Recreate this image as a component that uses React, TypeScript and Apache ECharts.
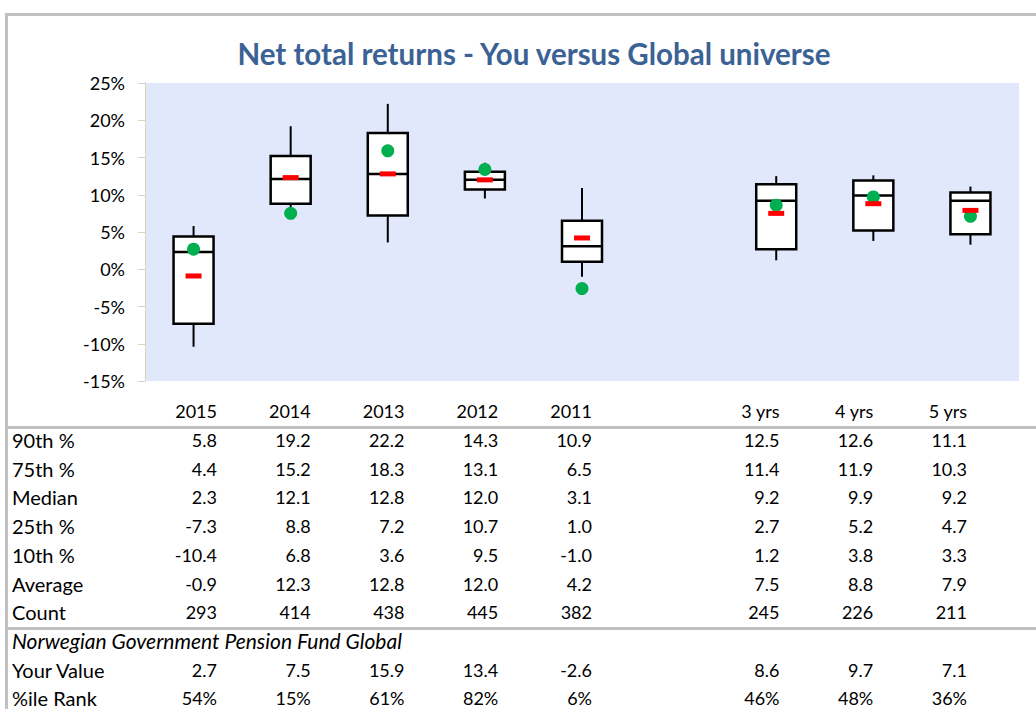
import React, { useEffect, useRef } from "react";
import * as echarts from "echarts";

const axisCategories = ["2015", "2014", "2013", "2012", "2011", "", "3 yrs", "4 yrs", "5 yrs"];
const periods = ["2015", "2014", "2013", "2012", "2011", "3 yrs", "4 yrs", "5 yrs"];
const p90 = [5.8, 19.2, 22.2, 14.3, 10.9, 12.5, 12.6, 11.1];
const p75 = [4.4, 15.2, 18.3, 13.1, 6.5, 11.4, 11.9, 10.3];
const median = [2.3, 12.1, 12.8, 12.0, 3.1, 9.2, 9.9, 9.2];
const p25 = [-7.3, 8.8, 7.2, 10.7, 1.0, 2.7, 5.2, 4.7];
const p10 = [-10.4, 6.8, 3.6, 9.5, -1.0, 1.2, 3.8, 3.3];
const average = [-0.9, 12.3, 12.8, 12.0, 4.2, 7.5, 8.8, 7.9];
const count = [293, 414, 438, 445, 382, 245, 226, 211];
const yourValue = [2.7, 7.5, 15.9, 13.4, -2.6, 8.6, 9.7, 7.1];
const pctRank = [54, 15, 61, 82, 6, 46, 48, 36];
const yTicks = { min: -15, max: 25, interval: 5 };

const FONT = "Lato, 'Open Sans', sans-serif";

export default function App() {
  const ref = useRef<HTMLDivElement>(null);
  useEffect(() => {
    if (!ref.current) return;
    const chart = echarts.init(ref.current, undefined, { renderer: "svg" });
    const idx = periods.map((p) => axisCategories.indexOf(p));

    const boxData = periods.map((_, i) => [idx[i], p10[i], p25[i], median[i], p75[i], p90[i]]);
    const avgData = periods.map((_, i) => [idx[i], average[i]]);
    const youData = periods.map((_, i) => [idx[i], yourValue[i]]);

    // table layout
    const colRight = (k: number) => 217 + k * 93.75;
    const headerY = 411;
    const rowY0 = 440;
    const rowPitch = 28.7;
    const textStyle = (text: string, x: number, y: number, align: string, size = 18, italic = false) => ({
      type: "text",
      silent: true,
      style: {
        text,
        x,
        y,
        fill: "#000",
        font: `${italic ? "italic " : ""}${size}px ${FONT}`,
        textAlign: align,
        textVerticalAlign: "middle",
      },
    });
    const LABEL_SIZE = 20;
    const graphics: any[] = [];
    // borders
    graphics.push({ type: "rect", silent: true, shape: { x: 5, y: 13, width: 1031, height: 3 }, style: { fill: "#c0c0c0" } });
    graphics.push({ type: "rect", silent: true, shape: { x: 5, y: 13, width: 3, height: 696 }, style: { fill: "#c0c0c0" } });
    graphics.push({ type: "rect", silent: true, shape: { x: 5, y: 426, width: 1031, height: 3 }, style: { fill: "#c0c0c0" } });
    graphics.push({ type: "rect", silent: true, shape: { x: 5, y: 627, width: 1031, height: 3 }, style: { fill: "#c0c0c0" } });

    periods.forEach((p, i) => {
      graphics.push(textStyle(p, colRight(idx[i]), headerY, "right"));
    });
    const rows: [string, (i: number) => string][] = [
      ["90th %", (i) => p90[i].toFixed(1)],
      ["75th %", (i) => p75[i].toFixed(1)],
      ["Median", (i) => median[i].toFixed(1)],
      ["25th %", (i) => p25[i].toFixed(1)],
      ["10th %", (i) => p10[i].toFixed(1)],
      ["Average", (i) => average[i].toFixed(1)],
      ["Count", (i) => String(count[i])],
    ];
    rows.forEach(([label, fn], r) => {
      const y = rowY0 + r * rowPitch;
      graphics.push(textStyle(label, 12, y, "left", LABEL_SIZE));
      periods.forEach((_, i) => graphics.push(textStyle(fn(i), colRight(idx[i]), y, "right")));
    });
    const r7 = rowY0 + 7 * rowPitch;
    graphics.push(textStyle("Norwegian Government Pension Fund Global", 12, r7, "left", 21, true));
    const r8 = rowY0 + 8 * rowPitch;
    graphics.push(textStyle("Your Value", 12, r8, "left", LABEL_SIZE));
    periods.forEach((_, i) => graphics.push(textStyle(yourValue[i].toFixed(1), colRight(idx[i]), r8, "right")));
    const r9 = rowY0 + 9 * rowPitch;
    graphics.push(textStyle("%ile Rank", 12, r9, "left", LABEL_SIZE));
    periods.forEach((_, i) => graphics.push(textStyle(`${pctRank[i]}%`, colRight(idx[i]), r9, "right")));

    chart.setOption({
      animation: false,
      backgroundColor: "#ffffff",
      title: {
        text: "Net total returns - You versus Global universe",
        left: 529,
        top: 33,
        textAlign: "center",
        textStyle: { fontFamily: FONT, fontWeight: "bold", fontSize: 29.5, color: "#3b6295" },
      },
      grid: {
        left: 145,
        right: 17,
        top: 83,
        bottom: 328,
        show: true,
        backgroundColor: "#e1e8fb",
        borderWidth: 0,
      },
      xAxis: {
        type: "category",
        data: axisCategories,
        axisLine: { show: false },
        axisTick: { show: false },
        axisLabel: { show: false },
        splitLine: { show: false },
      },
      yAxis: {
        type: "value",
        min: yTicks.min,
        max: yTicks.max,
        interval: yTicks.interval,
        axisLine: { show: true, lineStyle: { color: "#d9d3b8", width: 1 } },
        axisTick: { show: true, length: 7, lineStyle: { color: "#d9d3b8" } },
        axisLabel: {
          formatter: (v: number) => `${v}%`,
          fontFamily: FONT,
          fontSize: 18,
          color: "#000",
          margin: 20,
        },
        splitLine: { show: false },
      },
      graphic: graphics,
      series: [
        {
          type: "custom",
          z: 2,
          data: boxData,
          encode: { x: 0, y: [1, 2, 3, 4, 5] },
          renderItem: (params: any, api: any) => {
            const x = api.value(0);
            const pt = (v: number) => api.coord([x, v]);
            const c = pt(api.value(1))[0];
            const y10 = pt(api.value(1))[1];
            const y25 = pt(api.value(2))[1];
            const ymed = pt(api.value(3))[1];
            const y75 = pt(api.value(4))[1];
            const y90 = pt(api.value(5))[1];
            const hw = 20;
            return {
              type: "group",
              children: [
                { type: "line", shape: { x1: c, y1: y10, x2: c, y2: y25 }, style: { stroke: "#000", lineWidth: 2 } },
                { type: "line", shape: { x1: c, y1: y75, x2: c, y2: y90 }, style: { stroke: "#000", lineWidth: 2 } },
                {
                  type: "rect",
                  shape: { x: c - hw, y: y75, width: hw * 2, height: y25 - y75 },
                  style: { fill: "#ffffff", stroke: "#000", lineWidth: 2.5 },
                },
                { type: "line", shape: { x1: c - hw, y1: ymed, x2: c + hw, y2: ymed }, style: { stroke: "#000", lineWidth: 2.5 } },
              ],
            };
          },
        },
        {
          type: "scatter",
          z: 3,
          data: youData,
          symbol: "circle",
          symbolSize: 13,
          itemStyle: { color: "#00b050", opacity: 1 },
        },
        {
          type: "scatter",
          z: 4,
          data: avgData,
          symbol: "rect",
          symbolSize: [16, 5],
          itemStyle: { color: "#ff0000", opacity: 1 },
        },
      ],
    });
    return () => chart.dispose();
  }, []);
  return (
    <div
      ref={ref}
      style={{ position: "fixed", left: 0, top: 0, width: 1036, height: 709, background: "#fff" }}
    />
  );
}
